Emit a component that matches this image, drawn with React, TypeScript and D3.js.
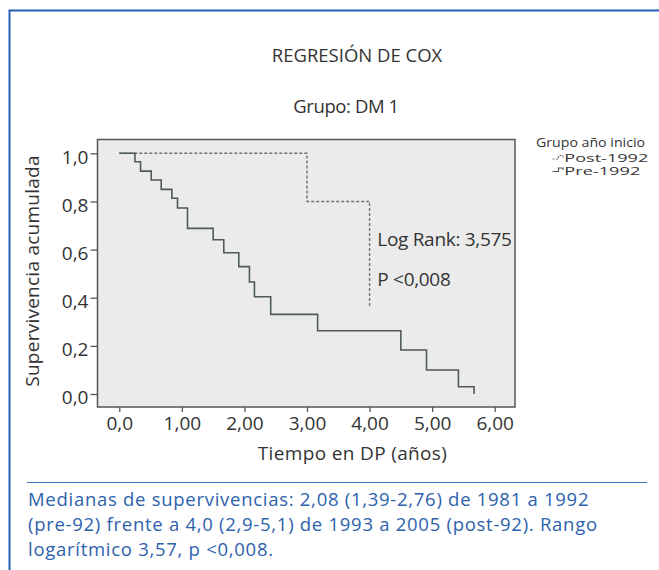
import React, { useEffect, useRef } from 'react'
import * as d3 from 'd3'

// Kaplan-Meier steps (time in years, cumulative survival)
const preTimes = [0, 0.25, 0.34, 0.51, 0.67, 0.84, 0.93, 1.09, 1.5, 1.67, 1.91, 2.08, 2.16, 2.42, 3.17, 4.5, 4.91, 5.42, 5.67]
const preSurv = [1.0, 0.965, 0.926, 0.889, 0.85, 0.813, 0.773, 0.688, 0.641, 0.587, 0.529, 0.465, 0.404, 0.331, 0.263, 0.183, 0.1, 0.03, 0.0]
const postTimes = [0, 3.0, 4.0]
const postSurv = [1.0, 0.8, 0.36]

const xTickValues = [0, 1, 2, 3, 4, 5, 6]
const xTickLabels = ['0,0', '1,00', '2,00', '3,00', '4,00', '5,00', '6,00']
const yTickValues = [0, 0.2, 0.4, 0.6, 0.8, 1.0]
const yTickLabels = ['0,0', '0,2', '0,4', '0,6', '0,8', '1,0']

const legendLabels = ['Post-1992', 'Pre-1992']
const statLines = ['Log Rank: 3,575', 'P <0,008']
const captionLines = [
  'Medianas de supervivencias: 2,08 (1,39-2,76) de 1981 a 1992',
  '(pre-92) frente a 4,0 (2,9-5,1) de 1993 a 2005 (post-92). Rango',
  'logarítmico 3,57, p <0,008.',
]

const W = 659
const H = 570
const BOX = { LEFT: 97.5, RIGHT: 515, TOP: 139.5, BOTTOM: 407 }
const FONT = "'Open Sans', sans-serif"
const TEXT = '#333'
const BLUE = '#2460b2'

export default function App() {
  const gRef = useRef<SVGGElement>(null)

  useEffect(() => {
    const g = d3.select(gRef.current)
    g.selectAll('*').remove()

    const x = d3.scaleLinear().domain([0, 6]).range([119.3, 494.7])
    const y = d3.scaleLinear().domain([0, 1]).range([394, 153.3])

    // outer frame (top + left rule)
    g.append('path')
      .attr('d', `M9.5,570 V10.5 H659`)
      .attr('fill', 'none')
      .attr('stroke', BLUE)
      .attr('stroke-width', 2)

    // titles
    g.append('text')
      .attr('x', 357).attr('y', 62.3)
      .attr('text-anchor', 'middle')
      .attr('font-size', 18.5).attr('fill', TEXT)
      .text('REGRESIÓN DE COX')
    g.append('text')
      .attr('x', 346).attr('y', 112.7)
      .attr('text-anchor', 'middle')
      .attr('font-size', 18.5).attr('fill', TEXT)
      .attr('letter-spacing', -0.4)
      .text('Grupo: DM 1')

    // plot box
    g.append('rect')
      .attr('x', BOX.LEFT).attr('y', BOX.TOP)
      .attr('width', BOX.RIGHT - BOX.LEFT)
      .attr('height', BOX.BOTTOM - BOX.TOP)
      .attr('fill', '#ebebeb')
      .attr('stroke', '#555')
      .attr('stroke-width', 1.5)

    // axes
    const xAxis = g.append('g')
      .attr('transform', `translate(0, ${BOX.BOTTOM})`)
      .call(d3.axisBottom(x)
        .tickValues(xTickValues)
        .tickFormat((d, i) => xTickLabels[i])
        .tickSize(5).tickSizeOuter(0).tickPadding(5))
    const yAxis = g.append('g')
      .attr('transform', `translate(${BOX.LEFT}, 0)`)
      .call(d3.axisLeft(y)
        .tickValues(yTickValues)
        .tickFormat((d, i) => yTickLabels[i])
        .tickSize(7).tickSizeOuter(0).tickPadding(2))
    for (const ax of [xAxis, yAxis]) {
      ax.select('.domain').remove()
      ax.selectAll('line').attr('stroke', '#555').attr('stroke-width', 1.3)
      ax.selectAll('text')
        .attr('font-family', FONT)
        .attr('font-size', 19)
        .attr('fill', TEXT)
    }
    yAxis.selectAll('text').attr('dy', '0.52em')

    // axis titles
    g.append('text')
      .attr('x', 352.5).attr('y', 460)
      .attr('text-anchor', 'middle')
      .attr('font-size', 19).attr('fill', TEXT)
      .attr('letter-spacing', 0.35)
      .text('Tiempo en DP (años)')
    g.append('text')
      .attr('transform', `translate(38.5, 271) rotate(-90)`)
      .attr('text-anchor', 'middle')
      .attr('font-size', 19).attr('fill', TEXT)
      .attr('letter-spacing', 0.25)
      .text('Supervivencia acumulada')

    // survival curves
    const prePts = preTimes.map((t, i) => [x(t), y(preSurv[i])] as [number, number])
    const postPts = postTimes.map((t, i) => [x(t), y(postSurv[i])] as [number, number])

    g.append('path')
      .attr('d', d3.line().curve(d3.curveStepAfter)(postPts))
      .attr('fill', 'none')
      .attr('stroke', '#707070')
      .attr('stroke-width', 1.4)
      .attr('stroke-dasharray', '3,2')
    g.append('path')
      .attr('d', d3.line().curve(d3.curveStepAfter)(prePts))
      .attr('fill', 'none')
      .attr('stroke', '#4f5a5a')
      .attr('stroke-width', 1.6)

    // log-rank annotation
    statLines.forEach((s, i) => {
      g.append('text')
        .attr('x', 377.3).attr('y', 246 + i * 39.7)
        .attr('font-size', 19).attr('fill', TEXT)
        .attr('letter-spacing', -0.3)
        .text(s)
    })

    // legend
    g.append('text')
      .attr('x', 536).attr('y', 147)
      .attr('font-size', 12).attr('fill', TEXT)
      .attr('textLength', 109)
      .attr('lengthAdjust', 'spacingAndGlyphs')
      .text('Grupo año inicio')
    const legendStyles = [
      { color: '#707070', dash: '2,1.5', y: 159 },
      { color: '#4f5a5a', dash: null, y: 171.5 },
    ]
    legendLabels.forEach((lab, i) => {
      const st = legendStyles[i]
      g.append('path')
        .attr('d', `M552.5,${st.y} H558.5 V${st.y - 3.5} H563 V${st.y - 1.5}`)
        .attr('fill', 'none')
        .attr('stroke', st.color)
        .attr('stroke-width', 1.2)
        .attr('stroke-dasharray', st.dash)
      g.append('text')
        .attr('x', 564.3).attr('y', 162.3 + i * 12.5)
        .attr('font-size', 10.5).attr('fill', TEXT)
        .attr('textLength', i === 0 ? 84 : 76)
        .attr('lengthAdjust', 'spacingAndGlyphs')
        .text(lab)
    })

    // caption
    g.append('line')
      .attr('x1', 27).attr('x2', 647)
      .attr('y1', 482.5).attr('y2', 482.5)
      .attr('stroke', '#3a6db5')
      .attr('stroke-width', 1.2)
    captionLines.forEach((c, i) => {
      g.append('text')
        .attr('x', 28).attr('y', [505.5, 531.3, 556][i])
        .attr('font-size', 18.5).attr('fill', '#2d62ac')
        .attr('letter-spacing', 0.72)
        .text(c)
    })
  }, [])

  return (
    <svg
      width={W}
      height={H}
      style={{ position: 'absolute', left: 0, top: 0, background: '#fff' }}
      fontFamily={FONT}
    >
      <g ref={gRef} />
    </svg>
  )
}
